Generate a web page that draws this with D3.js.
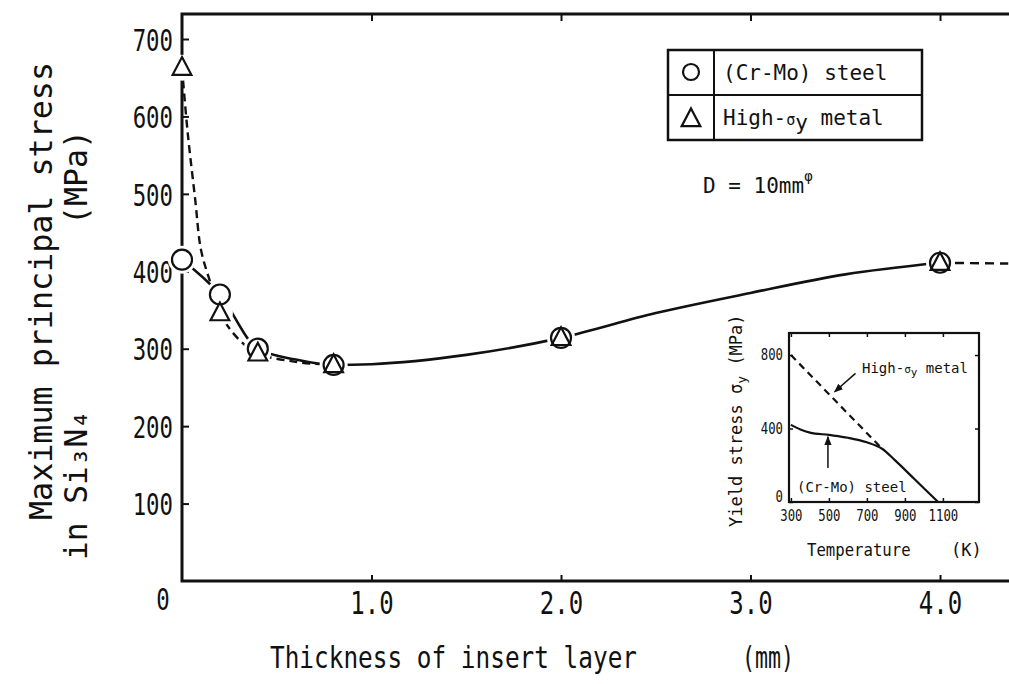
<!DOCTYPE html>
<html lang="en">
<meta charset="UTF-8" />
<title>Maximum principal stress vs insert layer thickness</title>
<script src="https://d3js.org/d3.v7.min.js"></script>
<style>
  body { margin: 0; background: #fff; }
  text { font-family: "DejaVu Sans Mono", monospace; fill: #111; }
</style>
<body>
<div id="chart"></div>
<script>
  // main chart data (thickness in mm, stress in MPa)
  let thickness = [0, 0.2, 0.4, 0.8, 2.0, 4.0];
  let crMoStress = [415, 370, 300, 279, 314, 411];
  let highSyStress = [663, 346, 294, 279, 314, 411];
  // curves
  let crMoCurveX = [0, 0.2, 0.4, 0.6, 0.8, 1.0, 1.5, 2.0, 2.5, 3.0, 3.5, 4.0];
  let crMoCurveY = [415, 370, 300, 286, 279, 280, 292, 314, 346, 372, 396, 411];
  let crMoTailX = [4.0, 4.36];
  let crMoTailY = [411, 410];
  let highSyCurveX = [0, 0.03, 0.07, 0.1, 0.15, 0.2, 0.3, 0.4, 0.6, 0.8];
  let highSyCurveY = [663, 579, 492, 428, 385, 346, 312, 294, 283, 279];
  let xTicks = [1, 2, 3, 4];
  let xTickLabels = ["1.0", "2.0", "3.0", "4.0"];
  let yTicks = [100, 200, 300, 400, 500, 600, 700];

  // inset: yield stress vs temperature
  let tempSteel = [300, 350, 400, 500, 600, 700, 780, 850, 950, 1075];
  let yieldSteel = [420, 395, 378, 365, 350, 325, 290, 225, 125, 0];
  let tempHigh = [300, 780];
  let yieldHigh = [800, 290];
  let insetXTicks = [300, 500, 700, 900, 1100];
  let insetYTicks = [0, 400, 800];

  const W = 1009, H = 684;
  const svg = d3.select("#chart").append("svg")
    .attr("width", W).attr("height", H);

  // squeeze text horizontally to get the tall narrow lettering
  function squeeze(sel, k) {
    sel.each(function () {
      const L = this.getComputedTextLength();
      this.setAttribute("textLength", L * k);
      this.setAttribute("lengthAdjust", "spacingAndGlyphs");
    });
  }

  const x = d3.scaleLinear().domain([0, 4.364]).range([182, 1009]);
  const y = d3.scaleLinear().domain([0, 700]).range([581, 39]);
  const frameTop = 14;

  // frame
  svg.append("path")
    .attr("d", `M${W},${frameTop}H182V581H${W}`)
    .attr("fill", "none").attr("stroke", "#111").attr("stroke-width", 3);

  // axes with inward ticks
  const gy = svg.append("g").attr("transform", "translate(182,0)")
    .call(d3.axisLeft(y).tickValues(yTicks).tickSize(-7).tickPadding(9));
  gy.select(".domain").remove();
  gy.selectAll("line").attr("stroke", "#111").attr("stroke-width", 2);
  gy.selectAll("text").attr("font-size", 31).attr("dy", "0.36em");
  squeeze(gy.selectAll("text"), 0.72);

  const gx = svg.append("g").attr("transform", "translate(0,581)")
    .call(d3.axisBottom(x).tickValues(xTicks).tickFormat((d, i) => xTickLabels[i]).tickSize(-6).tickPadding(10));
  gx.select(".domain").remove();
  gx.selectAll("line").attr("stroke", "#111").attr("stroke-width", 2);
  gx.selectAll("text").attr("font-size", 32).attr("dy", "0.72em");
  squeeze(gx.selectAll("text"), 0.75);

  const gt = svg.append("g").attr("transform", `translate(0,${frameTop})`)
    .call(d3.axisTop(x).tickValues(xTicks).tickSize(-7).tickFormat(""));
  gt.select(".domain").remove();
  gt.selectAll("line").attr("stroke", "#111").attr("stroke-width", 2);

  // origin label
  const zero = svg.append("text").attr("x", 163).attr("y", 610)
    .attr("text-anchor", "middle").attr("font-size", 31).text("0");
  squeeze(zero, 0.72);

  // axis titles
  svg.append("text").attr("x", 270).attr("y", 668)
    .attr("font-size", 30).attr("textLength", 367).attr("lengthAdjust", "spacingAndGlyphs")
    .text("Thickness of insert layer");
  svg.append("text").attr("x", 742).attr("y", 668)
    .attr("font-size", 30).attr("textLength", 52).attr("lengthAdjust", "spacingAndGlyphs").text("(mm)");

  svg.append("text").attr("transform", "translate(52,520) rotate(-90)")
    .attr("font-size", 32).attr("textLength", 458).attr("lengthAdjust", "spacingAndGlyphs")
    .text("Maximum principal stress");
  svg.append("text").attr("transform", "translate(87,560) rotate(-90)")
    .attr("font-size", 32).attr("textLength", 150).attr("lengthAdjust", "spacingAndGlyphs")
    .text("in Si₃N₄");
  svg.append("text").attr("transform", "translate(87,225) rotate(-90)")
    .attr("font-size", 32).attr("textLength", 95).attr("lengthAdjust", "spacingAndGlyphs")
    .text("(MPa)");

  // curves
  const line = d3.line().x((d) => x(d[0])).y((d) => y(d[1])).curve(d3.curveMonotoneX);
  const lineCR = d3.line().x((d) => x(d[0])).y((d) => y(d[1])).curve(d3.curveCatmullRom.alpha(0.5));
  const crMoCurve = crMoCurveX.map((v, i) => [v, crMoCurveY[i]]);
  const crMoTail = crMoTailX.map((v, i) => [v, crMoTailY[i]]);
  const highSyCurve = highSyCurveX.map((v, i) => [v, highSyCurveY[i]]);

  svg.append("path").attr("d", lineCR(highSyCurve)).attr("fill", "none")
    .attr("stroke", "#111").attr("stroke-width", 2.4).attr("stroke-dasharray", "8,5");
  svg.append("path").attr("d", line(crMoCurve)).attr("fill", "none")
    .attr("stroke", "#111").attr("stroke-width", 2.6);
  svg.append("path").attr("d", line(crMoTail)).attr("fill", "none")
    .attr("stroke", "#111").attr("stroke-width", 2.4).attr("stroke-dasharray", "9,6");

  // markers (white halo makes the small gap around each symbol)
  const tri = (cx, cy, s) => `M${cx},${cy - s * 0.62}L${cx + s * 0.55},${cy + s * 0.42}L${cx - s * 0.55},${cy + s * 0.42}Z`;
  const mk = svg.append("g");
  thickness.forEach((t, i) => {
    mk.append("circle").attr("cx", x(t)).attr("cy", y(crMoStress[i])).attr("r", 14).attr("fill", "#fff");
    mk.append("circle").attr("cx", x(t)).attr("cy", y(highSyStress[i])).attr("r", 13).attr("fill", "#fff");
  });
  thickness.forEach((t, i) => {
    mk.append("circle").attr("cx", x(t)).attr("cy", y(crMoStress[i])).attr("r", 10)
      .attr("fill", "#fff").attr("stroke", "#111").attr("stroke-width", 2.2);
  });
  thickness.forEach((t, i) => {
    mk.append("path").attr("d", tri(x(t), y(highSyStress[i]), 17))
      .attr("fill", i < 3 ? "#fff" : "none").attr("stroke", "#111").attr("stroke-width", 2.2);
  });

  // legend
  const lg = svg.append("g");
  lg.append("rect").attr("x", 668).attr("y", 50).attr("width", 254).attr("height", 90)
    .attr("fill", "#fff").attr("stroke", "#111").attr("stroke-width", 2.5);
  lg.append("line").attr("x1", 714).attr("x2", 714).attr("y1", 50).attr("y2", 140)
    .attr("stroke", "#111").attr("stroke-width", 2);
  lg.append("line").attr("x1", 668).attr("x2", 922).attr("y1", 95).attr("y2", 95)
    .attr("stroke", "#111").attr("stroke-width", 2);
  lg.append("circle").attr("cx", 691).attr("cy", 72).attr("r", 8)
    .attr("fill", "none").attr("stroke", "#111").attr("stroke-width", 2.2);
  lg.append("path").attr("d", tri(691, 119, 17))
    .attr("fill", "none").attr("stroke", "#111").attr("stroke-width", 2.2);
  lg.append("text").attr("x", 723).attr("y", 80).attr("font-size", 21).text("(Cr-Mo) steel");
  const lt = lg.append("text").attr("x", 723).attr("y", 125).attr("font-size", 21);
  lt.append("tspan").text("High-");
  lt.append("tspan").attr("font-size", 15).text("σ");
  lt.append("tspan").attr("dy", 5).text("y");
  lt.append("tspan").attr("dy", -5).text(" metal");

  const dl = svg.append("text").attr("x", 703).attr("y", 193).attr("font-size", 21);
  dl.append("tspan").text("D = 10mm");
  dl.append("tspan").attr("dy", -12).attr("font-size", 14).text("φ");

  // inset
  const ix = d3.scaleLinear().domain([290, 1290]).range([789, 979]);
  const iy = d3.scaleLinear().domain([0, 920]).range([502, 333]);
  const ins = svg.append("g");
  ins.append("rect").attr("x", 789).attr("y", 333).attr("width", 190).attr("height", 169)
    .attr("fill", "#fff").attr("stroke", "#111").attr("stroke-width", 2.2);
  const ixb = ins.append("g").attr("transform", "translate(0,502)")
    .call(d3.axisBottom(ix).tickValues(insetXTicks).tickFormat(d3.format("d")).tickSize(-4).tickPadding(8));
  ixb.select(".domain").remove();
  ixb.selectAll("text").attr("font-size", 15).attr("dy", "0.72em");
  squeeze(ixb.selectAll("text"), 0.82);
  const ixt = ins.append("g").attr("transform", "translate(0,333)")
    .call(d3.axisTop(ix).tickValues(insetXTicks).tickSize(-4).tickFormat(""));
  ixt.select(".domain").remove();
  const iyl = ins.append("g").attr("transform", "translate(789,0)")
    .call(d3.axisLeft(iy).tickValues(insetYTicks).tickSize(-4).tickPadding(6));
  iyl.select(".domain").remove();
  iyl.selectAll("text").attr("font-size", 15).attr("dy", (d) => (d === 0 ? "-0.05em" : "0.32em"));
  squeeze(iyl.selectAll("text"), 0.82);
  const iyr = ins.append("g").attr("transform", "translate(979,0)")
    .call(d3.axisRight(iy).tickValues(insetYTicks).tickSize(-4).tickFormat(""));
  iyr.select(".domain").remove();
  ins.selectAll("line").attr("stroke", "#111").attr("stroke-width", 1.5);

  const iline = d3.line().x((d) => ix(d[0])).y((d) => iy(d[1])).curve(d3.curveMonotoneX);
  ins.append("path").attr("d", iline(tempHigh.map((v, i) => [v, yieldHigh[i]])))
    .attr("fill", "none").attr("stroke", "#111").attr("stroke-width", 2.2).attr("stroke-dasharray", "7,5");
  ins.append("path").attr("d", iline(tempSteel.map((v, i) => [v, yieldSteel[i]])))
    .attr("fill", "none").attr("stroke", "#111").attr("stroke-width", 2.2);

  // inset annotations
  svg.append("defs").append("marker").attr("id", "ah").attr("viewBox", "0 0 10 10")
    .attr("refX", 9).attr("refY", 5).attr("markerWidth", 6).attr("markerHeight", 6)
    .attr("orient", "auto").append("path").attr("d", "M0,1L10,5L0,9Z").attr("fill", "#111");
  ins.append("line").attr("x1", ix(640)).attr("y1", iy(700)).attr("x2", ix(530)).attr("y2", iy(600))
    .attr("stroke", "#111").attr("stroke-width", 1.5).attr("marker-end", "url(#ah)");
  ins.append("line").attr("x1", ix(495)).attr("y1", iy(185)).attr("x2", ix(495)).attr("y2", iy(355))
    .attr("stroke", "#111").attr("stroke-width", 1.5).attr("marker-end", "url(#ah)");
  const ha = ins.append("text").attr("x", 862).attr("y", 373).attr("font-size", 14);
  ha.append("tspan").text("High-");
  ha.append("tspan").attr("font-size", 11).text("σ");
  ha.append("tspan").attr("dy", 3).attr("font-size", 11).text("y");
  ha.append("tspan").attr("dy", -3).text(" metal");
  ins.append("text").attr("x", 797).attr("y", 492).attr("font-size", 14).text("(Cr-Mo) steel");

  const it = ins.append("text").attr("x", 807).attr("y", 556).attr("font-size", 17).text("Temperature");
  squeeze(it, 0.92);
  ins.append("text").attr("x", 951).attr("y", 556).attr("font-size", 17).text("(K)");

  const iyt = ins.append("text").attr("transform", "translate(742,527) rotate(-90)").attr("font-size", 17);
  iyt.append("tspan").text("Yield stress ");
  iyt.append("tspan").text("σ");
  iyt.append("tspan").attr("dy", 4).attr("font-size", 13).text("y");
  iyt.append("tspan").attr("dy", -4).text("  (MPa)");
</script>
</body>
</html>
